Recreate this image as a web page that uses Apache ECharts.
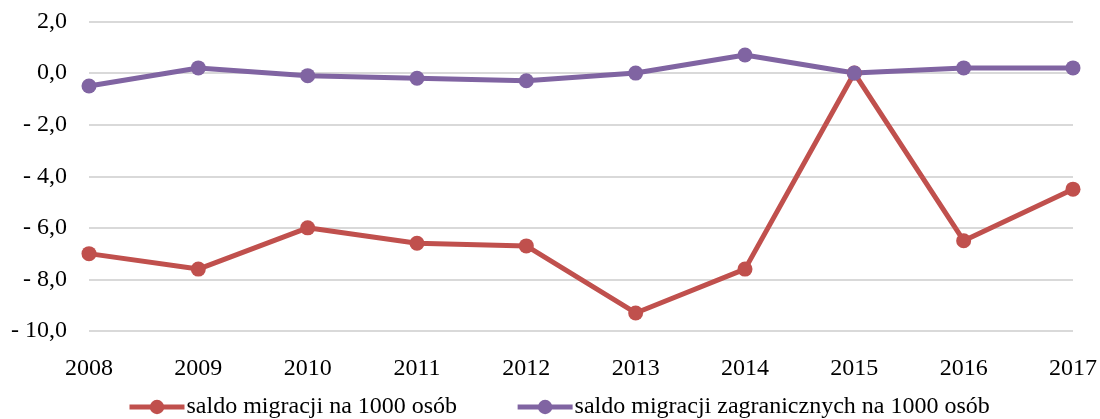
<!DOCTYPE html>
<html>
<head>
<meta charset="utf-8">
<script src="https://cdn.jsdelivr.net/npm/echarts@6/dist/echarts.min.js"></script>
<style>
    html, body { margin: 0; padding: 0; background: #fff; }
    #chart { width: 1100px; height: 419px; }
</style>
</head>
<body>
<div id="chart"></div>
<script>
const years = ['2008', '2009', '2010', '2011', '2012', '2013', '2014', '2015', '2016', '2017'];
const saldoMigracji = [-7.0, -7.6, -6.0, -6.6, -6.7, -9.3, -7.6, 0.0, -6.5, -4.5];
const saldoZagraniczne = [-0.5, 0.2, -0.1, -0.2, -0.3, 0.0, 0.7, 0.0, 0.2, 0.2];
const seriesNames = ['saldo migracji na 1000 osób', 'saldo migracji zagranicznych na 1000 osób'];

document.addEventListener('DOMContentLoaded', function() {
    initChart();
});

function formatTick(value) {
    const txt = Math.abs(value).toFixed(1).replace('.', ',');
    return value < 0 ? '- ' + txt : txt;
}

function initChart() {
    const chart = echarts.init(document.getElementById('chart'));
    const font = "'Liberation Serif', 'Times New Roman', serif";

    const option = {
        animation: false,
        grid: { left: 89, right: 27, top: 21.5, bottom: 88 },
        legend: {
            left: 122,
            top: 390,
            itemWidth: 55,
            itemHeight: 18,
            itemGap: 58,
            lineStyle: { width: 5 },
            textStyle: { fontFamily: font, fontSize: 24, color: '#000', padding: [0, 0, 0, -3] },
            data: seriesNames
        },
        xAxis: {
            type: 'category',
            data: years,
            boundaryGap: false,
            axisLine: { show: false },
            axisTick: { show: false },
            axisLabel: { fontFamily: font, fontSize: 24, color: '#000', margin: 26 }
        },
        yAxis: {
            type: 'value',
            min: -10,
            max: 2,
            interval: 2,
            axisLine: { show: false },
            axisTick: { show: false },
            splitLine: { lineStyle: { color: '#d9d9d9', width: 2 } },
            axisLabel: { fontFamily: font, fontSize: 24, color: '#000', margin: 22, formatter: formatTick }
        },
        series: [
            {
                name: seriesNames[0],
                type: 'line',
                data: saldoMigracji,
                symbol: 'circle',
                symbolSize: 15,
                itemStyle: { color: '#c0504d' },
                lineStyle: { color: '#c0504d', width: 5 }
            },
            {
                name: seriesNames[1],
                type: 'line',
                data: saldoZagraniczne,
                symbol: 'circle',
                symbolSize: 15,
                itemStyle: { color: '#8064a2' },
                lineStyle: { color: '#8064a2', width: 5 }
            }
        ]
    };

    chart.setOption(option);
}
</script>
</body>
</html>
